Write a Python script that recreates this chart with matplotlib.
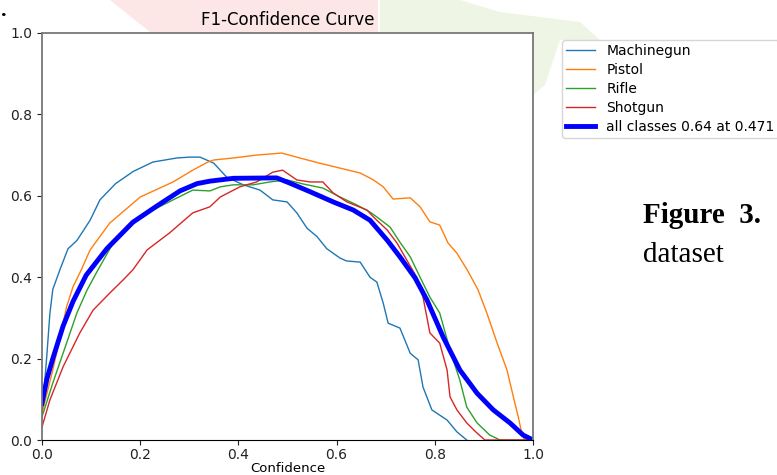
import matplotlib
matplotlib.use("Agg")
import matplotlib.pyplot as plt
from matplotlib.patches import Polygon

# F1 vs confidence
mg_x = [0.0, 0.01, 0.016, 0.022, 0.037, 0.053, 0.071, 0.098, 0.118, 0.15, 0.186, 0.226, 0.275, 0.3, 0.322,
        0.35, 0.376, 0.41, 0.444, 0.47, 0.499, 0.519, 0.54, 0.56, 0.58, 0.607, 0.62, 0.648, 0.668, 0.682,
        0.695, 0.705, 0.729, 0.75, 0.766, 0.776, 0.794, 0.825, 0.845, 0.865]
mg_y = [0.06, 0.21, 0.31, 0.37, 0.42, 0.47, 0.49, 0.54, 0.59, 0.63, 0.66, 0.683, 0.693, 0.695, 0.695,
        0.68, 0.646, 0.627, 0.614, 0.59, 0.585, 0.558, 0.52, 0.50, 0.47, 0.447, 0.44, 0.437, 0.40, 0.388,
        0.336, 0.287, 0.275, 0.213, 0.197, 0.13, 0.074, 0.049, 0.02, 0.0]

pi_x = [0.0, 0.022, 0.037, 0.05, 0.063, 0.08, 0.098, 0.138, 0.2, 0.267, 0.307, 0.338, 0.35, 0.39, 0.437,
        0.488, 0.525, 0.566, 0.607, 0.648, 0.675, 0.695, 0.715, 0.75, 0.77, 0.79, 0.81, 0.827, 0.845, 0.866,
        0.888, 0.906, 0.927, 0.947, 0.96, 0.97, 0.977, 0.983, 1.0]
pi_y = [0.066, 0.172, 0.253, 0.327, 0.376, 0.418, 0.467, 0.533, 0.597, 0.634, 0.663, 0.683, 0.688, 0.693, 0.70,
        0.705, 0.693, 0.68, 0.668, 0.656, 0.639, 0.622, 0.592, 0.595, 0.573, 0.536, 0.528, 0.484, 0.459, 0.418,
        0.369, 0.312, 0.238, 0.172, 0.106, 0.057, 0.017, 0.0, 0.0]

ri_x = [0.0, 0.022, 0.05, 0.071, 0.092, 0.114, 0.145, 0.193, 0.226, 0.267, 0.307, 0.342, 0.363, 0.39, 0.43,
        0.464, 0.499, 0.532, 0.572, 0.607, 0.642, 0.668, 0.682, 0.709, 0.729, 0.75, 0.77, 0.79, 0.81, 0.831,
        0.851, 0.865, 0.886, 0.912, 0.933, 1.0]
ri_y = [0.057, 0.14, 0.238, 0.312, 0.369, 0.418, 0.484, 0.54, 0.565, 0.59, 0.614, 0.612, 0.622, 0.627, 0.627,
        0.634, 0.639, 0.629, 0.619, 0.597, 0.577, 0.56, 0.548, 0.523, 0.486, 0.45, 0.40, 0.351, 0.312, 0.221,
        0.147, 0.081, 0.042, 0.012, 0.0, 0.0]

sh_x = [0.0, 0.016, 0.043, 0.077, 0.104, 0.138, 0.165, 0.185, 0.214, 0.26, 0.307, 0.342, 0.363, 0.403, 0.437,
        0.47, 0.49, 0.519, 0.546, 0.572, 0.593, 0.621, 0.662, 0.675, 0.703, 0.723, 0.743, 0.764, 0.776, 0.79,
        0.81, 0.825, 0.831, 0.845, 0.865, 0.886, 0.902, 1.0]
sh_y = [0.032, 0.098, 0.18, 0.263, 0.319, 0.361, 0.393, 0.418, 0.467, 0.509, 0.558, 0.573, 0.597, 0.622, 0.634,
        0.658, 0.663, 0.639, 0.634, 0.634, 0.607, 0.585, 0.565, 0.548, 0.516, 0.484, 0.442, 0.398, 0.351, 0.263,
        0.238, 0.172, 0.106, 0.074, 0.042, 0.017, 0.0, 0.0]

all_x = [0.0, 0.01, 0.022, 0.043, 0.063, 0.09, 0.132, 0.185, 0.234, 0.281, 0.316, 0.342, 0.39, 0.478, 0.505,
         0.546, 0.593, 0.634, 0.668, 0.703, 0.729, 0.76, 0.784, 0.817, 0.851, 0.886, 0.919, 0.953, 0.98, 1.0]
all_y = [0.09, 0.15, 0.2, 0.28, 0.34, 0.405, 0.47, 0.535, 0.575, 0.612, 0.63, 0.636, 0.643, 0.644, 0.631,
         0.61, 0.585, 0.565, 0.54, 0.491, 0.45, 0.398, 0.344, 0.253, 0.172, 0.115, 0.074, 0.042, 0.012, 0.0]

W, H = 777, 475
fig = plt.figure(figsize=(W / 100, H / 100), dpi=100)


def px(points):
    # pixel coords (from top-left) -> figure fraction
    return [(x / W, 1 - y / H) for x, y in points]


# faint page watermark behind the figure
fig.add_artist(Polygon(px([(110, 0), (378, 0), (378, 32), (150, 32)]),
                       closed=True, facecolor="#fde6e6", edgecolor="none", zorder=0))
fig.add_artist(Polygon(px([(380, 0), (460, 0), (500, 12), (580, 22), (600, 40), (560, 40), (545, 85),
                           (533, 95), (533, 32), (380, 32)]),
                       closed=True, facecolor="#eef5e5", edgecolor="none", zorder=0))

ax = fig.add_axes([42 / W, 1 - 440 / H, 491 / W, 407 / H])
ax.plot(mg_x, mg_y, color="tab:blue", lw=1, label="Machinegun")
ax.plot(pi_x, pi_y, color="tab:orange", lw=1, label="Pistol")
ax.plot(ri_x, ri_y, color="tab:green", lw=1, label="Rifle")
ax.plot(sh_x, sh_y, color="tab:red", lw=1, label="Shotgun")
ax.plot(all_x, all_y, color="blue", lw=3.5, label="all classes 0.64 at 0.471")

ax.set_xlim(0, 1)
ax.set_ylim(0, 1)
ax.set_xticks([0.0, 0.2, 0.4, 0.6, 0.8, 1.0])
ax.set_yticks([0.0, 0.2, 0.4, 0.6, 0.8, 1.0])
ax.tick_params(labelsize=10, colors="#222222")
ax.tick_params(axis="x", pad=2.5)
for side in ["left", "top", "right"]:
    ax.spines[side].set_color("#777777")
    ax.spines[side].set_linewidth(1.3)
ax.spines["bottom"].set_color("black")
ax.set_xlabel("Confidence", fontsize=9.5, labelpad=0)
ax.set_title("F1-Confidence Curve", fontsize=12)

ax.legend(loc="upper left", bbox_to_anchor=(1.059, 0.983), borderaxespad=0, fontsize=10,
          labelspacing=0.35, borderpad=0.3, handlelength=2.1)

# surrounding page text
fig.text(643 / W, 1 - 223 / H, "Figure  3.", fontsize=21, fontweight="bold", family="Liberation Serif")
fig.text(643 / W, 1 - 262 / H, "dataset", fontsize=21, family="Liberation Serif")
fig.text(1 / W, 1 - 16 / H, ".", fontsize=16, fontweight="bold", family="Liberation Serif")

fig.savefig("out.png", dpi=100)
